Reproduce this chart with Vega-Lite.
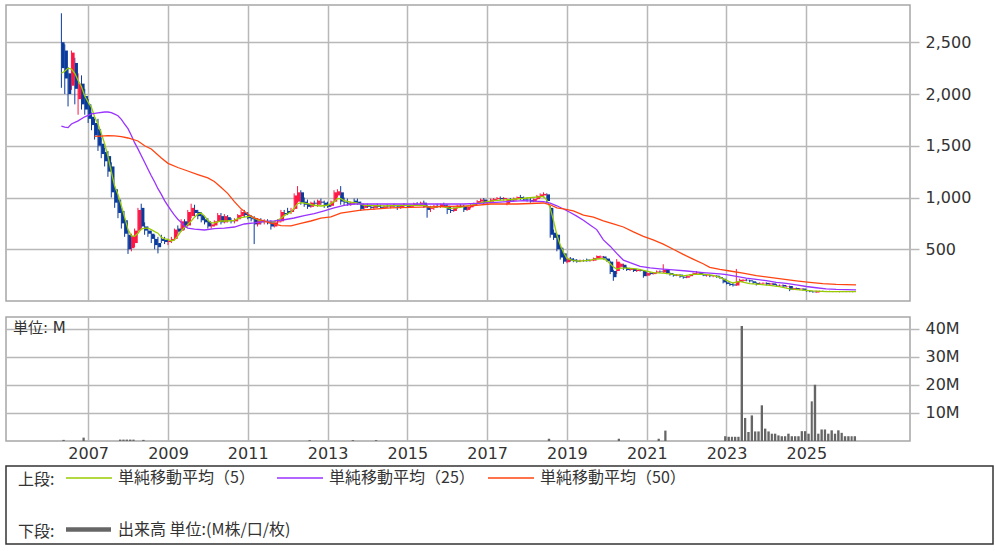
{
  "$schema": "https://vega.github.io/schema/vega-lite/v6.json",
  "padding": {"left": 5, "top": 4, "right": 0, "bottom": 0},
  "background": "white",
  "config": {
    "font": "DejaVu Sans",
    "view": {"stroke": "#a6a6a6", "strokeWidth": 1.5},
    "axis": {"gridColor": "#b8b8b8", "gridWidth": 1.5, "gridOpacity": 1, "labelFont": "DejaVu Sans", "labelFontSize": 16, "labelColor": "#333333", "domain": false, "tickColor": "#b8b8b8", "tickWidth": 1.5, "title": null},
    "legend": {"labelFont": "Noto Sans CJK JP", "labelFontSize": 16, "labelColor": "#333333", "titleFont": "Noto Sans CJK JP", "titleFontSize": 16, "titleFontWeight": "normal", "titleColor": "#333333", "labelLimit": 400}
  },
  "datasets": {
    "candles": [
      {"d":"2006-05-01","o":2500,"h":2780,"l":2060,"c":2250},
      {"d":"2006-06-01","o":2420,"h":2480,"l":2000,"c":2150},
      {"d":"2006-07-01","o":2200,"h":2260,"l":1880,"c":2000},
      {"d":"2006-08-01","o":2080,"h":2420,"l":2040,"c":2400},
      {"d":"2006-09-01","o":2300,"h":2350,"l":1900,"c":2050},
      {"d":"2006-10-01","o":1950,"h":2200,"l":1800,"c":2100},
      {"d":"2006-11-01","o":2100,"h":2180,"l":1850,"c":1900},
      {"d":"2006-12-01","o":1980,"h":2050,"l":1800,"c":1850},
      {"d":"2007-01-01","o":1900,"h":1950,"l":1720,"c":1760},
      {"d":"2007-02-01","o":1780,"h":1820,"l":1650,"c":1700},
      {"d":"2007-03-01","o":1720,"h":1760,"l":1560,"c":1600},
      {"d":"2007-04-01","o":1660,"h":1760,"l":1450,"c":1500},
      {"d":"2007-05-01","o":1520,"h":1580,"l":1380,"c":1420},
      {"d":"2007-06-01","o":1440,"h":1480,"l":1300,"c":1350},
      {"d":"2007-07-01","o":1400,"h":1450,"l":1200,"c":1250},
      {"d":"2007-08-01","o":1300,"h":1340,"l":1000,"c":1050},
      {"d":"2007-09-01","o":1080,"h":1110,"l":900,"c":950},
      {"d":"2007-10-01","o":980,"h":1000,"l":800,"c":850},
      {"d":"2007-11-01","o":870,"h":900,"l":700,"c":750},
      {"d":"2007-12-01","o":780,"h":800,"l":620,"c":650},
      {"d":"2008-01-01","o":640,"h":680,"l":455,"c":500},
      {"d":"2008-02-01","o":510,"h":650,"l":480,"c":630},
      {"d":"2008-03-01","o":560,"h":700,"l":520,"c":680},
      {"d":"2008-04-01","o":680,"h":900,"l":650,"c":880},
      {"d":"2008-05-01","o":900,"h":940,"l":700,"c":720},
      {"d":"2008-06-01","o":720,"h":760,"l":640,"c":680},
      {"d":"2008-07-01","o":680,"h":720,"l":620,"c":650},
      {"d":"2008-08-01","o":650,"h":680,"l":560,"c":600},
      {"d":"2008-09-01","o":600,"h":640,"l":500,"c":540},
      {"d":"2008-10-01","o":560,"h":620,"l":460,"c":520},
      {"d":"2008-11-01","o":600,"h":640,"l":560,"c":580},
      {"d":"2008-12-01","o":590,"h":620,"l":550,"c":570},
      {"d":"2009-01-01","o":570,"h":600,"l":540,"c":580},
      {"d":"2009-02-01","o":580,"h":620,"l":560,"c":600},
      {"d":"2009-03-01","o":600,"h":700,"l":590,"c":690},
      {"d":"2009-04-01","o":700,"h":730,"l":650,"c":670},
      {"d":"2009-05-01","o":680,"h":790,"l":670,"c":770},
      {"d":"2009-06-01","o":770,"h":790,"l":690,"c":720},
      {"d":"2009-07-01","o":730,"h":880,"l":720,"c":860},
      {"d":"2009-08-01","o":820,"h":940,"l":800,"c":900},
      {"d":"2009-09-01","o":880,"h":930,"l":820,"c":850},
      {"d":"2009-10-01","o":860,"h":880,"l":790,"c":820},
      {"d":"2009-11-01","o":830,"h":860,"l":760,"c":780},
      {"d":"2009-12-01","o":790,"h":810,"l":740,"c":760},
      {"d":"2010-01-01","o":770,"h":800,"l":700,"c":720},
      {"d":"2010-02-01","o":720,"h":760,"l":700,"c":740},
      {"d":"2010-03-01","o":730,"h":780,"l":720,"c":770},
      {"d":"2010-04-01","o":770,"h":850,"l":760,"c":830},
      {"d":"2010-05-01","o":820,"h":850,"l":740,"c":760},
      {"d":"2010-06-01","o":760,"h":840,"l":750,"c":820},
      {"d":"2010-07-01","o":810,"h":830,"l":760,"c":780},
      {"d":"2010-08-01","o":780,"h":800,"l":750,"c":770},
      {"d":"2010-09-01","o":770,"h":800,"l":750,"c":790},
      {"d":"2010-10-01","o":790,"h":840,"l":770,"c":830},
      {"d":"2010-11-01","o":820,"h":880,"l":800,"c":860},
      {"d":"2010-12-01","o":850,"h":880,"l":810,"c":830},
      {"d":"2011-01-01","o":830,"h":860,"l":790,"c":800},
      {"d":"2011-02-01","o":800,"h":830,"l":770,"c":790},
      {"d":"2011-03-01","o":800,"h":820,"l":550,"c":740},
      {"d":"2011-04-01","o":740,"h":800,"l":720,"c":780},
      {"d":"2011-05-01","o":780,"h":800,"l":740,"c":760},
      {"d":"2011-06-01","o":760,"h":790,"l":740,"c":770},
      {"d":"2011-07-01","o":770,"h":790,"l":740,"c":750},
      {"d":"2011-08-01","o":760,"h":780,"l":690,"c":720},
      {"d":"2011-09-01","o":720,"h":770,"l":710,"c":760},
      {"d":"2011-10-01","o":760,"h":790,"l":740,"c":770},
      {"d":"2011-11-01","o":770,"h":880,"l":760,"c":860},
      {"d":"2011-12-01","o":850,"h":880,"l":820,"c":840},
      {"d":"2012-01-01","o":870,"h":900,"l":830,"c":850},
      {"d":"2012-02-01","o":860,"h":900,"l":840,"c":880},
      {"d":"2012-03-01","o":890,"h":1040,"l":880,"c":1020},
      {"d":"2012-04-01","o":960,"h":1110,"l":950,"c":1050},
      {"d":"2012-05-01","o":1050,"h":1070,"l":930,"c":950},
      {"d":"2012-06-01","o":960,"h":1000,"l":910,"c":930},
      {"d":"2012-07-01","o":940,"h":980,"l":890,"c":910},
      {"d":"2012-08-01","o":910,"h":960,"l":900,"c":950},
      {"d":"2012-09-01","o":950,"h":970,"l":920,"c":940},
      {"d":"2012-10-01","o":930,"h":980,"l":910,"c":970},
      {"d":"2012-11-01","o":960,"h":990,"l":930,"c":950},
      {"d":"2012-12-01","o":950,"h":970,"l":900,"c":920},
      {"d":"2013-01-01","o":930,"h":960,"l":900,"c":910},
      {"d":"2013-02-01","o":920,"h":970,"l":910,"c":960},
      {"d":"2013-03-01","o":960,"h":1070,"l":950,"c":1050},
      {"d":"2013-04-01","o":1020,"h":1080,"l":1000,"c":1060},
      {"d":"2013-05-01","o":1050,"h":1110,"l":930,"c":960},
      {"d":"2013-06-01","o":960,"h":1000,"l":920,"c":950},
      {"d":"2013-07-01","o":950,"h":990,"l":920,"c":940},
      {"d":"2013-08-01","o":940,"h":960,"l":920,"c":950},
      {"d":"2013-09-01","o":970,"h":990,"l":930,"c":950},
      {"d":"2013-10-01","o":960,"h":990,"l":930,"c":940},
      {"d":"2013-11-01","o":940,"h":960,"l":870,"c":890},
      {"d":"2013-12-01","o":900,"h":930,"l":880,"c":920},
      {"d":"2014-01-01","o":920,"h":940,"l":900,"c":910},
      {"d":"2014-02-01","o":910,"h":930,"l":890,"c":900},
      {"d":"2014-03-01","o":900,"h":930,"l":880,"c":920},
      {"d":"2014-04-01","o":920,"h":940,"l":900,"c":910},
      {"d":"2014-05-01","o":910,"h":930,"l":890,"c":900},
      {"d":"2014-06-01","o":900,"h":925,"l":890,"c":915},
      {"d":"2014-07-01","o":915,"h":935,"l":900,"c":910},
      {"d":"2014-08-01","o":910,"h":930,"l":895,"c":920},
      {"d":"2014-09-01","o":920,"h":940,"l":905,"c":915},
      {"d":"2014-10-01","o":915,"h":930,"l":880,"c":900},
      {"d":"2014-11-01","o":900,"h":930,"l":890,"c":925},
      {"d":"2014-12-01","o":925,"h":945,"l":910,"c":920},
      {"d":"2015-01-01","o":920,"h":935,"l":900,"c":910},
      {"d":"2015-02-01","o":910,"h":930,"l":900,"c":925},
      {"d":"2015-03-01","o":925,"h":950,"l":915,"c":940},
      {"d":"2015-04-01","o":935,"h":955,"l":920,"c":930},
      {"d":"2015-05-01","o":930,"h":960,"l":920,"c":950},
      {"d":"2015-06-01","o":950,"h":970,"l":900,"c":910},
      {"d":"2015-07-01","o":910,"h":930,"l":805,"c":880},
      {"d":"2015-08-01","o":890,"h":920,"l":860,"c":900},
      {"d":"2015-09-01","o":900,"h":930,"l":880,"c":920},
      {"d":"2015-10-01","o":920,"h":940,"l":900,"c":910},
      {"d":"2015-11-01","o":910,"h":940,"l":900,"c":935},
      {"d":"2015-12-01","o":930,"h":950,"l":910,"c":920},
      {"d":"2016-01-01","o":920,"h":935,"l":840,"c":880},
      {"d":"2016-02-01","o":880,"h":910,"l":850,"c":870},
      {"d":"2016-03-01","o":870,"h":905,"l":860,"c":900},
      {"d":"2016-04-01","o":900,"h":930,"l":890,"c":920},
      {"d":"2016-05-01","o":920,"h":935,"l":900,"c":910},
      {"d":"2016-06-01","o":915,"h":930,"l":860,"c":880},
      {"d":"2016-07-01","o":880,"h":920,"l":870,"c":910},
      {"d":"2016-08-01","o":905,"h":935,"l":895,"c":925},
      {"d":"2016-09-01","o":925,"h":950,"l":915,"c":945},
      {"d":"2016-10-01","o":940,"h":975,"l":930,"c":965},
      {"d":"2016-11-01","o":960,"h":990,"l":950,"c":980},
      {"d":"2016-12-01","o":980,"h":995,"l":935,"c":950},
      {"d":"2017-01-01","o":950,"h":975,"l":935,"c":960},
      {"d":"2017-02-01","o":960,"h":990,"l":950,"c":980},
      {"d":"2017-03-01","o":975,"h":995,"l":960,"c":985},
      {"d":"2017-04-01","o":985,"h":1005,"l":970,"c":995},
      {"d":"2017-05-01","o":995,"h":1010,"l":975,"c":985},
      {"d":"2017-06-01","o":985,"h":1005,"l":970,"c":995},
      {"d":"2017-07-01","o":940,"h":990,"l":925,"c":980},
      {"d":"2017-08-01","o":980,"h":995,"l":960,"c":970},
      {"d":"2017-09-01","o":970,"h":1000,"l":960,"c":990},
      {"d":"2017-10-01","o":990,"h":1010,"l":980,"c":1005},
      {"d":"2017-11-01","o":1005,"h":1025,"l":975,"c":985},
      {"d":"2017-12-01","o":990,"h":1010,"l":970,"c":980},
      {"d":"2018-01-01","o":980,"h":1000,"l":960,"c":975},
      {"d":"2018-02-01","o":975,"h":995,"l":950,"c":960},
      {"d":"2018-03-01","o":960,"h":990,"l":955,"c":985},
      {"d":"2018-04-01","o":985,"h":1025,"l":975,"c":1015},
      {"d":"2018-05-01","o":1005,"h":1040,"l":995,"c":1030},
      {"d":"2018-06-01","o":1020,"h":1050,"l":1000,"c":1035},
      {"d":"2018-07-01","o":1030,"h":1040,"l":950,"c":966},
      {"d":"2018-08-01","o":900,"h":920,"l":612,"c":640},
      {"d":"2018-09-01","o":660,"h":690,"l":590,"c":610},
      {"d":"2018-10-01","o":640,"h":650,"l":480,"c":500},
      {"d":"2018-11-01","o":515,"h":530,"l":400,"c":420},
      {"d":"2018-12-01","o":460,"h":470,"l":360,"c":380},
      {"d":"2019-01-01","o":375,"h":420,"l":365,"c":410},
      {"d":"2019-02-01","o":410,"h":425,"l":380,"c":390},
      {"d":"2019-03-01","o":400,"h":415,"l":375,"c":385},
      {"d":"2019-04-01","o":390,"h":405,"l":370,"c":380},
      {"d":"2019-05-01","o":385,"h":400,"l":375,"c":390},
      {"d":"2019-06-01","o":390,"h":400,"l":380,"c":385},
      {"d":"2019-07-01","o":400,"h":410,"l":380,"c":385},
      {"d":"2019-08-01","o":390,"h":400,"l":380,"c":395},
      {"d":"2019-09-01","o":390,"h":420,"l":385,"c":415},
      {"d":"2019-10-01","o":410,"h":440,"l":405,"c":435},
      {"d":"2019-11-01","o":420,"h":440,"l":410,"c":430},
      {"d":"2019-12-01","o":430,"h":435,"l":400,"c":410},
      {"d":"2020-01-01","o":410,"h":415,"l":380,"c":385},
      {"d":"2020-02-01","o":380,"h":390,"l":260,"c":280},
      {"d":"2020-03-01","o":290,"h":300,"l":195,"c":230},
      {"d":"2020-04-01","o":290,"h":405,"l":260,"c":380},
      {"d":"2020-05-01","o":330,"h":370,"l":320,"c":360},
      {"d":"2020-06-01","o":350,"h":360,"l":300,"c":320},
      {"d":"2020-07-01","o":320,"h":330,"l":290,"c":300},
      {"d":"2020-08-01","o":300,"h":320,"l":290,"c":315},
      {"d":"2020-09-01","o":310,"h":315,"l":280,"c":290},
      {"d":"2020-10-01","o":290,"h":305,"l":280,"c":300},
      {"d":"2020-11-01","o":300,"h":310,"l":285,"c":290},
      {"d":"2020-12-01","o":290,"h":295,"l":225,"c":240},
      {"d":"2021-01-01","o":245,"h":280,"l":240,"c":270},
      {"d":"2021-02-01","o":270,"h":280,"l":250,"c":260},
      {"d":"2021-03-01","o":260,"h":280,"l":255,"c":275},
      {"d":"2021-04-01","o":275,"h":295,"l":265,"c":285},
      {"d":"2021-05-01","o":285,"h":295,"l":270,"c":280},
      {"d":"2021-06-01","o":275,"h":355,"l":270,"c":300},
      {"d":"2021-07-01","o":300,"h":305,"l":260,"c":270},
      {"d":"2021-08-01","o":270,"h":275,"l":245,"c":255},
      {"d":"2021-09-01","o":255,"h":265,"l":235,"c":245},
      {"d":"2021-10-01","o":245,"h":260,"l":240,"c":255},
      {"d":"2021-11-01","o":255,"h":258,"l":225,"c":235},
      {"d":"2021-12-01","o":235,"h":240,"l":215,"c":225},
      {"d":"2022-01-01","o":225,"h":245,"l":220,"c":240},
      {"d":"2022-02-01","o":240,"h":260,"l":235,"c":255},
      {"d":"2022-03-01","o":255,"h":275,"l":250,"c":270},
      {"d":"2022-04-01","o":265,"h":290,"l":260,"c":275},
      {"d":"2022-05-01","o":275,"h":280,"l":255,"c":260},
      {"d":"2022-06-01","o":260,"h":265,"l":240,"c":245},
      {"d":"2022-07-01","o":245,"h":255,"l":235,"c":250},
      {"d":"2022-08-01","o":250,"h":255,"l":230,"c":240},
      {"d":"2022-09-01","o":240,"h":250,"l":230,"c":245},
      {"d":"2022-10-01","o":245,"h":248,"l":225,"c":230},
      {"d":"2022-11-01","o":230,"h":240,"l":215,"c":220},
      {"d":"2022-12-01","o":215,"h":220,"l":170,"c":180},
      {"d":"2023-01-01","o":180,"h":190,"l":160,"c":165},
      {"d":"2023-02-01","o":165,"h":175,"l":145,"c":155},
      {"d":"2023-03-01","o":160,"h":175,"l":140,"c":150},
      {"d":"2023-04-01","o":150,"h":310,"l":145,"c":190},
      {"d":"2023-05-01","o":185,"h":215,"l":180,"c":205},
      {"d":"2023-06-01","o":195,"h":210,"l":185,"c":205},
      {"d":"2023-07-01","o":205,"h":215,"l":190,"c":200},
      {"d":"2023-08-01","o":200,"h":205,"l":180,"c":190},
      {"d":"2023-09-01","o":190,"h":195,"l":165,"c":175},
      {"d":"2023-10-01","o":175,"h":180,"l":150,"c":160},
      {"d":"2023-11-01","o":165,"h":180,"l":155,"c":170},
      {"d":"2023-12-01","o":170,"h":180,"l":160,"c":175},
      {"d":"2024-01-01","o":175,"h":180,"l":150,"c":160},
      {"d":"2024-02-01","o":160,"h":175,"l":150,"c":170},
      {"d":"2024-03-01","o":170,"h":175,"l":150,"c":155},
      {"d":"2024-04-01","o":155,"h":165,"l":140,"c":150},
      {"d":"2024-05-01","o":150,"h":160,"l":140,"c":155},
      {"d":"2024-06-01","o":155,"h":160,"l":135,"c":140},
      {"d":"2024-07-01","o":140,"h":150,"l":130,"c":145},
      {"d":"2024-08-01","o":145,"h":148,"l":95,"c":110},
      {"d":"2024-09-01","o":110,"h":130,"l":105,"c":125},
      {"d":"2024-10-01","o":125,"h":130,"l":110,"c":115},
      {"d":"2024-11-01","o":115,"h":125,"l":105,"c":120},
      {"d":"2024-12-01","o":120,"h":122,"l":100,"c":105},
      {"d":"2025-01-01","o":105,"h":110,"l":90,"c":95},
      {"d":"2025-02-01","o":95,"h":100,"l":85,"c":90},
      {"d":"2025-03-01","o":90,"h":95,"l":80,"c":85},
      {"d":"2025-04-01","o":82,"h":100,"l":78,"c":95},
      {"d":"2025-05-01","o":92,"h":100,"l":85,"c":95},
      {"d":"2025-06-01","o":95,"h":100,"l":88,"c":92},
      {"d":"2025-07-01","o":92,"h":98,"l":88,"c":95},
      {"d":"2025-08-01","o":95,"h":98,"l":88,"c":90},
      {"d":"2025-09-01","o":90,"h":95,"l":85,"c":92},
      {"d":"2025-10-01","o":92,"h":96,"l":86,"c":88},
      {"d":"2025-11-01","o":88,"h":94,"l":84,"c":91},
      {"d":"2025-12-01","o":91,"h":95,"l":86,"c":89},
      {"d":"2026-01-01","o":89,"h":93,"l":85,"c":90},
      {"d":"2026-02-01","o":90,"h":94,"l":86,"c":88},
      {"d":"2026-03-01","o":88,"h":92,"l":84,"c":89}
    ],
    "ma": [
      {"s":"5","d":"2006-05-01","v":2200},{"s":"5","d":"2006-06-01","v":2220},{"s":"5","d":"2006-07-01","v":2250},{"s":"5","d":"2006-08-01","v":2240},
      {"s":"5","d":"2006-09-01","v":2200},{"s":"5","d":"2006-10-01","v":2130},{"s":"5","d":"2006-11-01","v":2070},{"s":"5","d":"2006-12-01","v":1980},
      {"s":"5","d":"2007-01-01","v":1920},{"s":"5","d":"2007-02-01","v":1870},{"s":"5","d":"2007-03-01","v":1780},{"s":"5","d":"2007-04-01","v":1710},
      {"s":"5","d":"2007-05-01","v":1620},{"s":"5","d":"2007-06-01","v":1520},{"s":"5","d":"2007-07-01","v":1400},{"s":"5","d":"2007-08-01","v":1250},
      {"s":"5","d":"2007-09-01","v":1110},{"s":"5","d":"2007-10-01","v":1030},{"s":"5","d":"2007-11-01","v":920},{"s":"5","d":"2007-12-01","v":810},
      {"s":"5","d":"2008-01-01","v":690},{"s":"5","d":"2008-02-01","v":630},{"s":"5","d":"2008-03-01","v":625},{"s":"5","d":"2008-04-01","v":655},
      {"s":"5","d":"2008-05-01","v":695},{"s":"5","d":"2008-06-01","v":705},{"s":"5","d":"2008-07-01","v":705},{"s":"5","d":"2008-08-01","v":690},
      {"s":"5","d":"2008-09-01","v":670},{"s":"5","d":"2008-10-01","v":655},{"s":"5","d":"2008-11-01","v":615},{"s":"5","d":"2008-12-01","v":600},
      {"s":"5","d":"2009-01-01","v":595},{"s":"5","d":"2009-02-01","v":580},{"s":"5","d":"2009-03-01","v":590},{"s":"5","d":"2009-04-01","v":630},
      {"s":"5","d":"2009-05-01","v":676},{"s":"5","d":"2009-06-01","v":710},{"s":"5","d":"2009-07-01","v":740},{"s":"5","d":"2009-08-01","v":773},
      {"s":"5","d":"2009-09-01","v":810},{"s":"5","d":"2009-10-01","v":840},{"s":"5","d":"2009-11-01","v":850},{"s":"5","d":"2009-12-01","v":820},
      {"s":"5","d":"2010-01-01","v":780},{"s":"5","d":"2010-02-01","v":754},{"s":"5","d":"2010-03-01","v":755},{"s":"5","d":"2010-04-01","v":765},
      {"s":"5","d":"2010-05-01","v":773},{"s":"5","d":"2010-07-01","v":773},{"s":"5","d":"2010-09-01","v":780},{"s":"5","d":"2010-10-01","v":795},
      {"s":"5","d":"2010-11-01","v":805},{"s":"5","d":"2011-01-01","v":815},{"s":"5","d":"2011-02-01","v":820},{"s":"5","d":"2011-03-01","v":800},
      {"s":"5","d":"2011-04-01","v":785},{"s":"5","d":"2011-05-01","v":773},{"s":"5","d":"2011-07-01","v":770},{"s":"5","d":"2011-09-01","v":765},
      {"s":"5","d":"2011-10-01","v":780},{"s":"5","d":"2011-11-01","v":800},{"s":"5","d":"2011-12-01","v":825},{"s":"5","d":"2012-02-01","v":860},
      {"s":"5","d":"2012-03-01","v":900},{"s":"5","d":"2012-04-01","v":940},{"s":"5","d":"2012-05-01","v":950},{"s":"5","d":"2012-07-01","v":940},
      {"s":"5","d":"2012-09-01","v":925},{"s":"5","d":"2012-11-01","v":918},{"s":"5","d":"2013-01-01","v":925},{"s":"5","d":"2013-03-01","v":960},
      {"s":"5","d":"2013-04-01","v":990},{"s":"5","d":"2013-05-01","v":990},{"s":"5","d":"2013-06-01","v":970},{"s":"5","d":"2013-08-01","v":955},
      {"s":"5","d":"2013-10-01","v":945},{"s":"5","d":"2013-12-01","v":925},{"s":"5","d":"2014-06-01","v":920},{"s":"5","d":"2014-12-01","v":925},
      {"s":"5","d":"2015-06-01","v":925},{"s":"5","d":"2015-08-01","v":905},{"s":"5","d":"2015-11-01","v":915},{"s":"5","d":"2016-02-01","v":895},
      {"s":"5","d":"2016-05-01","v":905},{"s":"5","d":"2016-08-01","v":925},{"s":"5","d":"2016-11-01","v":950},{"s":"5","d":"2017-03-01","v":970},
      {"s":"5","d":"2017-08-01","v":980},{"s":"5","d":"2018-01-01","v":995},{"s":"5","d":"2018-06-01","v":1010},{"s":"5","d":"2018-07-01","v":975},
      {"s":"5","d":"2018-08-01","v":900},{"s":"5","d":"2018-09-01","v":775},{"s":"5","d":"2018-10-01","v":640},{"s":"5","d":"2018-11-01","v":540},
      {"s":"5","d":"2018-12-01","v":470},{"s":"5","d":"2019-01-01","v":410},{"s":"5","d":"2019-03-01","v":390},{"s":"5","d":"2019-05-01","v":386},
      {"s":"5","d":"2019-08-01","v":395},{"s":"5","d":"2019-10-01","v":406},{"s":"5","d":"2019-12-01","v":410},{"s":"5","d":"2020-01-01","v":390},
      {"s":"5","d":"2020-02-01","v":360},{"s":"5","d":"2020-03-01","v":330},{"s":"5","d":"2020-04-01","v":309},{"s":"5","d":"2020-05-01","v":318},
      {"s":"5","d":"2020-07-01","v":318},{"s":"5","d":"2020-10-01","v":310},{"s":"5","d":"2020-12-01","v":295},{"s":"5","d":"2021-03-01","v":275},
      {"s":"5","d":"2021-06-01","v":270},{"s":"5","d":"2021-09-01","v":258},{"s":"5","d":"2021-12-01","v":242},{"s":"5","d":"2022-03-01","v":258},
      {"s":"5","d":"2022-06-01","v":260},{"s":"5","d":"2022-09-01","v":248},{"s":"5","d":"2022-11-01","v":228},{"s":"5","d":"2023-01-01","v":200},
      {"s":"5","d":"2023-03-01","v":174},{"s":"5","d":"2023-05-01","v":190},{"s":"5","d":"2023-08-01","v":168},{"s":"5","d":"2023-11-01","v":160},
      {"s":"5","d":"2024-02-01","v":150},{"s":"5","d":"2024-05-01","v":138},{"s":"5","d":"2024-08-01","v":118},{"s":"5","d":"2024-11-01","v":108},
      {"s":"5","d":"2025-03-01","v":97},{"s":"5","d":"2025-07-01","v":91},{"s":"5","d":"2025-11-01","v":90},{"s":"5","d":"2026-04-01","v":90},
      {"s":"25","d":"2006-05-01","v":1690},{"s":"25","d":"2006-06-01","v":1680},{"s":"25","d":"2006-07-01","v":1675},{"s":"25","d":"2006-08-01","v":1710},
      {"s":"25","d":"2006-10-01","v":1740},{"s":"25","d":"2006-12-01","v":1780},{"s":"25","d":"2007-02-01","v":1807},{"s":"25","d":"2007-04-01","v":1818},
      {"s":"25","d":"2007-06-01","v":1826},{"s":"25","d":"2007-07-01","v":1826},{"s":"25","d":"2007-08-01","v":1820},{"s":"25","d":"2007-09-01","v":1805},
      {"s":"25","d":"2007-10-01","v":1790},{"s":"25","d":"2007-11-01","v":1755},{"s":"25","d":"2007-12-01","v":1710},{"s":"25","d":"2008-01-01","v":1665},
      {"s":"25","d":"2008-02-01","v":1600},{"s":"25","d":"2008-03-01","v":1530},{"s":"25","d":"2008-04-01","v":1470},{"s":"25","d":"2008-05-01","v":1405},
      {"s":"25","d":"2008-06-01","v":1340},{"s":"25","d":"2008-07-01","v":1275},{"s":"25","d":"2008-08-01","v":1210},{"s":"25","d":"2008-09-01","v":1150},
      {"s":"25","d":"2008-10-01","v":1085},{"s":"25","d":"2008-11-01","v":1030},{"s":"25","d":"2008-12-01","v":970},{"s":"25","d":"2009-01-01","v":920},
      {"s":"25","d":"2009-02-01","v":870},{"s":"25","d":"2009-03-01","v":830},{"s":"25","d":"2009-04-01","v":790},{"s":"25","d":"2009-05-01","v":760},
      {"s":"25","d":"2009-06-01","v":725},{"s":"25","d":"2009-07-01","v":705},{"s":"25","d":"2009-09-01","v":695},{"s":"25","d":"2009-12-01","v":686},
      {"s":"25","d":"2010-03-01","v":700},{"s":"25","d":"2010-06-01","v":705},{"s":"25","d":"2010-09-01","v":715},{"s":"25","d":"2010-12-01","v":744},
      {"s":"25","d":"2011-03-01","v":755},{"s":"25","d":"2011-06-01","v":770},{"s":"25","d":"2011-09-01","v":775},{"s":"25","d":"2011-12-01","v":785},
      {"s":"25","d":"2012-03-01","v":802},{"s":"25","d":"2012-06-01","v":825},{"s":"25","d":"2012-09-01","v":845},{"s":"25","d":"2012-12-01","v":872},
      {"s":"25","d":"2013-03-01","v":899},{"s":"25","d":"2013-06-01","v":925},{"s":"25","d":"2013-09-01","v":937},{"s":"25","d":"2014-06-01","v":937},
      {"s":"25","d":"2015-06-01","v":937},{"s":"25","d":"2016-06-01","v":937},{"s":"25","d":"2016-12-01","v":945},{"s":"25","d":"2017-06-01","v":958},
      {"s":"25","d":"2017-12-01","v":970},{"s":"25","d":"2018-06-01","v":960},{"s":"25","d":"2018-08-01","v":945},{"s":"25","d":"2018-10-01","v":920},
      {"s":"25","d":"2018-12-01","v":889},{"s":"25","d":"2019-02-01","v":855},{"s":"25","d":"2019-04-01","v":820},{"s":"25","d":"2019-06-01","v":780},
      {"s":"25","d":"2019-08-01","v":735},{"s":"25","d":"2019-10-01","v":690},{"s":"25","d":"2019-12-01","v":590},{"s":"25","d":"2020-02-01","v":530},
      {"s":"25","d":"2020-04-01","v":460},{"s":"25","d":"2020-06-01","v":395},{"s":"25","d":"2020-08-01","v":370},{"s":"25","d":"2020-11-01","v":335},
      {"s":"25","d":"2021-02-01","v":320},{"s":"25","d":"2021-05-01","v":311},{"s":"25","d":"2021-09-01","v":300},{"s":"25","d":"2022-01-01","v":290},
      {"s":"25","d":"2022-06-01","v":275},{"s":"25","d":"2022-11-01","v":263},{"s":"25","d":"2023-01-01","v":255},{"s":"25","d":"2023-04-01","v":237},
      {"s":"25","d":"2023-07-01","v":220},{"s":"25","d":"2023-10-01","v":208},{"s":"25","d":"2024-01-01","v":196},{"s":"25","d":"2024-04-01","v":180},
      {"s":"25","d":"2024-07-01","v":170},{"s":"25","d":"2024-10-01","v":155},{"s":"25","d":"2025-01-01","v":140},{"s":"25","d":"2025-04-01","v":128},
      {"s":"25","d":"2025-07-01","v":118},{"s":"25","d":"2025-10-01","v":112},{"s":"25","d":"2026-01-01","v":110},{"s":"25","d":"2026-04-01","v":108},
      {"s":"50","d":"2007-03-01","v":1590},{"s":"50","d":"2007-05-01","v":1594},{"s":"50","d":"2007-07-01","v":1598},{"s":"50","d":"2007-09-01","v":1596},
      {"s":"50","d":"2007-11-01","v":1588},{"s":"50","d":"2008-01-01","v":1575},{"s":"50","d":"2008-04-01","v":1546},{"s":"50","d":"2008-06-01","v":1500},
      {"s":"50","d":"2008-08-01","v":1469},{"s":"50","d":"2008-11-01","v":1382},{"s":"50","d":"2009-01-01","v":1330},{"s":"50","d":"2009-04-01","v":1290},
      {"s":"50","d":"2009-07-01","v":1256},{"s":"50","d":"2009-10-01","v":1222},{"s":"50","d":"2010-01-01","v":1190},{"s":"50","d":"2010-03-01","v":1155},
      {"s":"50","d":"2010-05-01","v":1100},{"s":"50","d":"2010-07-01","v":1040},{"s":"50","d":"2010-09-01","v":960},{"s":"50","d":"2010-11-01","v":890},
      {"s":"50","d":"2011-01-01","v":840},{"s":"50","d":"2011-03-01","v":802},{"s":"50","d":"2011-06-01","v":773},{"s":"50","d":"2011-08-01","v":752},
      {"s":"50","d":"2011-11-01","v":728},{"s":"50","d":"2012-02-01","v":726},{"s":"50","d":"2012-05-01","v":750},{"s":"50","d":"2012-08-01","v":773},
      {"s":"50","d":"2012-11-01","v":800},{"s":"50","d":"2013-02-01","v":812},{"s":"50","d":"2013-05-01","v":850},{"s":"50","d":"2013-11-01","v":879},
      {"s":"50","d":"2014-08-01","v":899},{"s":"50","d":"2015-08-01","v":909},{"s":"50","d":"2016-08-01","v":920},{"s":"50","d":"2017-02-01","v":937},
      {"s":"50","d":"2017-10-01","v":937},{"s":"50","d":"2018-06-01","v":947},{"s":"50","d":"2018-08-01","v":930},{"s":"50","d":"2018-10-01","v":900},
      {"s":"50","d":"2018-12-01","v":890},{"s":"50","d":"2019-03-01","v":870},{"s":"50","d":"2019-06-01","v":830},{"s":"50","d":"2019-09-01","v":810},
      {"s":"50","d":"2019-12-01","v":775},{"s":"50","d":"2020-03-01","v":745},{"s":"50","d":"2020-06-01","v":715},{"s":"50","d":"2020-09-01","v":668},
      {"s":"50","d":"2020-12-01","v":625},{"s":"50","d":"2021-03-01","v":590},{"s":"50","d":"2021-06-01","v":550},{"s":"50","d":"2021-09-01","v":500},
      {"s":"50","d":"2021-12-01","v":450},{"s":"50","d":"2022-03-01","v":405},{"s":"50","d":"2022-06-01","v":360},{"s":"50","d":"2022-08-01","v":325},
      {"s":"50","d":"2022-11-01","v":305},{"s":"50","d":"2023-02-01","v":290},{"s":"50","d":"2023-06-01","v":270},{"s":"50","d":"2023-10-01","v":245},
      {"s":"50","d":"2024-02-01","v":228},{"s":"50","d":"2024-06-01","v":212},{"s":"50","d":"2024-10-01","v":195},{"s":"50","d":"2025-02-01","v":180},
      {"s":"50","d":"2025-06-01","v":168},{"s":"50","d":"2025-10-01","v":160},{"s":"50","d":"2026-04-01","v":155}
    ],
    "vol": [
      {"d":"2006-05-01","v":0.4},{"d":"2006-11-01","v":1.2},{"d":"2007-10-01","v":0.5},{"d":"2007-11-01","v":0.5},{"d":"2007-12-01","v":0.5},
      {"d":"2008-01-01","v":0.5},{"d":"2008-02-01","v":0.5},{"d":"2008-05-01","v":0.4},{"d":"2012-07-01","v":0.3},{"d":"2013-08-01","v":0.3},
      {"d":"2014-03-01","v":0.3},{"d":"2018-07-01","v":0.8},{"d":"2020-04-01","v":0.8},{"d":"2021-04-01","v":0.8},{"d":"2021-06-01","v":3.7},
      {"d":"2022-12-01","v":1.7},{"d":"2023-01-01","v":1.5},{"d":"2023-02-01","v":1.5},{"d":"2023-03-01","v":1.5},{"d":"2023-04-01","v":1.5},
      {"d":"2023-05-01","v":40.9},{"d":"2023-06-01","v":8.2},{"d":"2023-07-01","v":3.2},{"d":"2023-08-01","v":9.1},{"d":"2023-09-01","v":3.4},
      {"d":"2023-10-01","v":3.4},{"d":"2023-11-01","v":12.7},{"d":"2023-12-01","v":4.4},{"d":"2024-01-01","v":3.4},{"d":"2024-02-01","v":2.6},
      {"d":"2024-03-01","v":2.6},{"d":"2024-04-01","v":2.0},{"d":"2024-05-01","v":1.7},{"d":"2024-06-01","v":1.7},{"d":"2024-07-01","v":2.6},
      {"d":"2024-08-01","v":1.7},{"d":"2024-09-01","v":1.7},{"d":"2024-10-01","v":1.7},{"d":"2024-11-01","v":3.5},{"d":"2024-12-01","v":3.5},
      {"d":"2025-01-01","v":2.6},{"d":"2025-02-01","v":14.1},{"d":"2025-03-01","v":20.0},{"d":"2025-04-01","v":2.6},{"d":"2025-05-01","v":4.1},
      {"d":"2025-06-01","v":4.1},{"d":"2025-07-01","v":2.6},{"d":"2025-08-01","v":3.8},{"d":"2025-09-01","v":2.6},{"d":"2025-10-01","v":3.8},
      {"d":"2025-11-01","v":2.9},{"d":"2025-12-01","v":1.7},{"d":"2026-01-01","v":1.7},{"d":"2026-02-01","v":1.7},{"d":"2026-03-01","v":1.7}
    ]
  },
  "vconcat": [
    {
      "vconcat": [
        {
          "width": 904,
          "height": 296,
          "layer": [
            {
              "data": {"name": "candles"},
              "mark": {"type": "rule", "strokeWidth": 1, "timeUnitBandPosition": 0.5},
              "encoding": {
                "x": {"field": "d", "type": "temporal", "timeUnit": "utcyearmonth",
                  "scale": {"type": "utc", "domain": [{"year": 2004, "month": 12, "date": 10, "utc": true}, {"year": 2027, "month": 8, "date": 8, "utc": true}]},
                  "axis": {"values": [{"year":2007,"utc":true},{"year":2009,"utc":true},{"year":2011,"utc":true},{"year":2013,"utc":true},{"year":2015,"utc":true},{"year":2017,"utc":true},{"year":2019,"utc":true},{"year":2021,"utc":true},{"year":2023,"utc":true},{"year":2025,"utc":true}],
                    "labels": false, "ticks": false, "grid": true, "title": null}},
                "y": {"field": "l", "type": "quantitative", "scale": {"domain": [0, 2860], "nice": false, "zero": false},
                  "axis": {"orient": "right", "values": [500, 1000, 1500, 2000, 2500], "format": ",.0f", "tickSize": 9, "labelPadding": 6, "grid": true, "title": null}},
                "y2": {"field": "h"},
                "color": {"condition": {"test": "datum.c >= datum.o", "value": "#ff1744"}, "value": "#0a3a9c"}
              }
            },
            {
              "data": {"name": "candles"},
              "mark": {"type": "bar", "size": 3, "timeUnitBandPosition": 0.5},
              "encoding": {
                "x": {"field": "d", "type": "temporal", "timeUnit": "utcyearmonth"},
                "y": {"field": "o", "type": "quantitative"},
                "y2": {"field": "c"},
                "color": {"condition": {"test": "datum.c >= datum.o", "value": "#ff1744"}, "value": "#0a3a9c"}
              }
            },
            {
              "data": {"name": "ma"},
              "mark": {"type": "line", "strokeWidth": 1.3},
              "encoding": {
                "x": {"field": "d", "type": "temporal"},
                "y": {"field": "v", "type": "quantitative"},
                "color": {"field": "s", "type": "nominal",
                  "scale": {"domain": ["5", "25", "50"], "range": ["#99cc00", "#9933ff", "#ff4411"]},
                  "legend": {"title": "上段:", "orient": "none", "legendX": 12, "legendY": 449, "direction": "horizontal", "titleOrient": "left", "titlePadding": 10,
                    "symbolType": "stroke", "symbolSize": 2116, "symbolStrokeWidth": 1.5, "labelOffset": 5, "columnPadding": 10, "gridAlign": "all",
                    "labelExpr": "'単純移動平均（' + datum.label + '）'",
                    "encode": {"title": {"update": {"dy": {"value": 10}}}}}}
              }
            }
          ]
        },
        {
          "width": 904,
          "height": 124,
          "title": {"text": "単位: M", "anchor": "start", "orient": "top", "offset": -19, "dx": 7, "fontSize": 15, "fontWeight": "normal", "font": "DejaVu Sans, Noto Sans CJK JP", "color": "#333333", "frame": "group"},
          "data": {"name": "vol"},
          "mark": {"type": "bar"},
          "encoding": {
            "x": {"field": "d", "type": "temporal", "timeUnit": "utcyearmonth",
              "scale": {"type": "utc", "domain": [{"year": 2004, "month": 12, "date": 10, "utc": true}, {"year": 2027, "month": 8, "date": 8, "utc": true}]},
              "axis": {"values": [{"year":2007,"utc":true},{"year":2009,"utc":true},{"year":2011,"utc":true},{"year":2013,"utc":true},{"year":2015,"utc":true},{"year":2017,"utc":true},{"year":2019,"utc":true},{"year":2021,"utc":true},{"year":2023,"utc":true},{"year":2025,"utc":true}],
                "format": "%Y", "ticks": false, "labelPadding": 4, "grid": true, "title": null}},
            "y": {"field": "v", "type": "quantitative", "scale": {"domain": [0, 44.1], "nice": false},
              "axis": {"orient": "right", "values": [10, 20, 30, 40], "labelExpr": "datum.value + 'M'", "tickSize": 9, "labelPadding": 6, "grid": true, "title": null}},
            "fill": {"datum": "出来高 単位:(M株/口/枚)", "type": "nominal", "scale": {"range": ["#666666"]},
              "legend": {"title": "下段:", "orient": "none", "legendX": 12, "legendY": 501, "direction": "horizontal", "titleOrient": "left", "titlePadding": 10,
                "symbolType": "M-1,-0.1H1V0.1H-1Z", "symbolSize": 2025, "symbolOpacity": 1, "labelOffset": 6,
                "encode": {"title": {"update": {"dy": {"value": 10}}}}}}
          }
        }
      ],
      "spacing": 14
    },
    {
      "width": 987,
      "height": 78,
      "view": {"stroke": "#333333", "strokeWidth": 1.5},
      "data": {"values": []},
      "mark": {"type": "rule", "opacity": 0},
      "encoding": {}
    }
  ],
  "spacing": 3
}
